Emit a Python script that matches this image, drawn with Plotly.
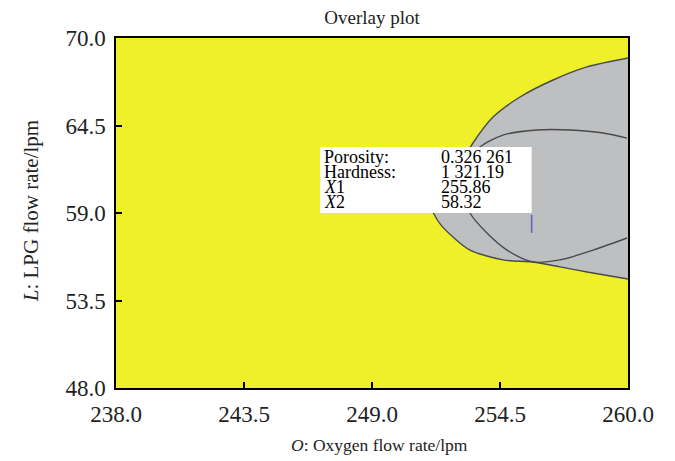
import plotly.graph_objects as go

# ---- data ----
x_ticks = [238.0, 243.5, 249.0, 254.5, 260.0]
y_ticks = [48.0, 53.5, 59.0, 64.5, 70.0]

# outer contour (boundary of the grey, infeasible region)
outer_x = [260.00, 258.24, 256.78, 255.36, 254.20, 253.34, 252.87, 252.27, 251.79,
           251.54, 251.54, 251.66, 251.96, 252.48, 253.21, 254.63, 255.92, 257.08,
           258.24, 260.00]
outer_y = [68.74, 68.18, 67.36, 66.29, 65.03, 63.40, 62.21, 61.20, 60.45,
           59.82, 59.38, 58.94, 58.25, 57.49, 56.67, 56.05, 55.92, 55.61,
           55.29, 54.85]

# inner contour
inner_x = [259.96, 258.93, 257.51, 256.09, 254.63, 253.64, 253.12, 252.91, 253.00,
           253.21, 253.94, 254.80, 255.92, 257.08, 258.50, 259.96]
inner_y = [63.71, 64.03, 64.22, 64.22, 63.90, 63.15, 62.21, 61.07, 59.94,
           59.00, 57.74, 56.67, 55.92, 56.05, 56.67, 57.43]

# flagged point
flag_x1 = 255.86
flag_x2 = 58.32
flag_labels = ["Porosity:", "Hardness:", "<i>X</i>1", "<i>X</i>2"]
flag_values = ["0.326 261", "1 321.19", "255.86", "58.32"]

YELLOW = "#EFEF2A"
GREY = "#BEBFC1"
SERIF = "Liberation Serif"
FLAG = "#6468B8"

fig = go.Figure()
fig.add_trace(go.Scatter(x=outer_x, y=outer_y, mode="lines", fill="toself",
                         fillcolor=GREY,
                         line=dict(color="#4a4a4a", width=1.4, shape="spline",
                                   smoothing=0.8),
                         hoverinfo="skip"))
fig.add_trace(go.Scatter(x=inner_x, y=inner_y, mode="lines",
                         line=dict(color="#4a4a4a", width=1.4, shape="spline",
                                   smoothing=0.8),
                         hoverinfo="skip"))
fig.add_trace(go.Scatter(x=[flag_x1], y=[flag_x2], mode="markers",
                         marker=dict(symbol="line-ns-open", size=13, color=FLAG,
                                     line=dict(color=FLAG, width=1.6)),
                         hoverinfo="skip"))

# flag label box
box_left = 246.77
box_bottom = 59.0
box_top = 63.15
fig.add_shape(type="rect", xref="x", yref="y", x0=box_left, x1=flag_x1,
              y0=box_bottom, y1=box_top, fillcolor="white", line=dict(width=0),
              layer="above")
line_step = (box_top - box_bottom) / 4.4
for i, (lab, val) in enumerate(zip(flag_labels, flag_values)):
    yy = box_top - line_step * (0.65 + i)
    fig.add_annotation(x=box_left + 0.08, y=yy, xref="x", yref="y", text=lab,
                       showarrow=False, xanchor="left", yanchor="middle",
                       font=dict(family=SERIF, size=18, color="black"))
    fig.add_annotation(x=box_left + 5.1, y=yy, xref="x", yref="y", text=val,
                       showarrow=False, xanchor="left", yanchor="middle",
                       font=dict(family=SERIF, size=18, color="black"))

axis_common = dict(showgrid=False, zeroline=False, showline=True, mirror=True,
                   linecolor="black", linewidth=1.5, ticks="inside", ticklen=6,
                   tickwidth=1.5, tickcolor="black",
                   tickfont=dict(family=SERIF, size=23, color="#222"))

fig.update_xaxes(range=[238, 260], tickvals=x_ticks,
                 ticktext=[f"{v:.1f}" for v in x_ticks], ticklabelstandoff=5,
                 **axis_common)
fig.update_yaxes(range=[48, 70], tickvals=y_ticks,
                 ticktext=[f"{v:.1f}" for v in y_ticks], ticklabelstandoff=4,
                 **axis_common)

fig.add_annotation(x=0.515, y=-0.163, xref="paper", yref="paper",
                   text="<i>O</i>: Oxygen flow rate/lpm", showarrow=False,
                   xanchor="center", yanchor="middle",
                   font=dict(family=SERIF, size=17.5, color="#222"))
fig.add_annotation(x=-0.166, y=0.505, xref="paper", yref="paper",
                   text="<i>L</i>: LPG flow rate/lpm", showarrow=False,
                   textangle=-90, xanchor="center", yanchor="middle",
                   font=dict(family=SERIF, size=21, color="#222"))

fig.update_layout(
    width=675, height=461,
    margin=dict(l=116, r=47, t=38, b=73),
    plot_bgcolor=YELLOW, paper_bgcolor="white",
    showlegend=False,
    title=dict(text="Overlay plot", x=0.5, xref="paper",
               xanchor="center", y=1 - 17 / 461, yref="container", yanchor="middle",
               font=dict(family=SERIF, size=19, color="#222")),
)

fig.write_html("out.html", config={"displayModeBar": False},
               post_script="document.body.style.margin='0';document.body.style.overflow='hidden';")
